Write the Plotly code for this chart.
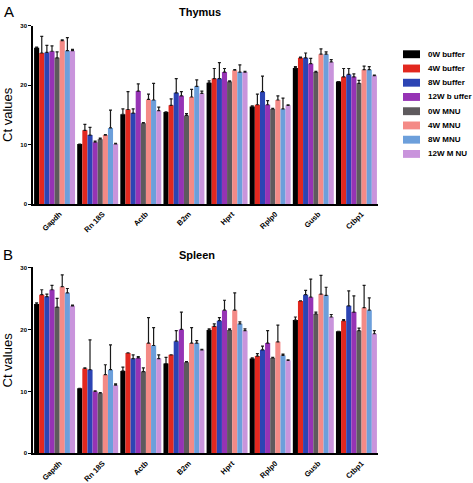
import plotly.graph_objects as go
from plotly.subplots import make_subplots

genes = ["Gapdh", "Rn 18S", "Actb", "B2m", "Hprt", "Rplp0", "Gusb", "Ctbp1"]
series = ["0W buffer", "4W buffer", "8W buffer", "12W b uffer", "0W MNU", "4W MNU", "8W MNU", "12W M NU"]
colors = ["#000000", "#e2281f", "#2c44b4", "#9633b5", "#5e5a5d", "#f48a86", "#6c9fdb", "#c994dc"]

# Thymus means and (upper) error values
thymus_0w_buf = [26.3, 10.1, 15.1, 15.5, 20.4, 16.4, 22.9, 20.6]
thymus_4w_buf = [25.4, 12.4, 15.9, 16.6, 21.1, 16.7, 24.6, 21.4]
thymus_8w_buf = [25.5, 11.6, 15.3, 18.7, 21.1, 18.9, 24.6, 21.8]
thymus_12w_buf = [25.7, 10.4, 19.0, 18.2, 22.2, 16.7, 23.6, 21.4]
thymus_0w_mnu = [24.6, 10.9, 13.6, 14.9, 20.6, 16.0, 22.2, 20.3]
thymus_4w_mnu = [27.5, 11.6, 17.6, 18.0, 22.5, 17.5, 25.2, 22.6]
thymus_8w_mnu = [25.8, 12.8, 17.5, 19.8, 22.2, 16.0, 25.2, 22.6]
thymus_12w_mnu = [25.8, 10.1, 15.7, 18.6, 22.2, 16.6, 23.9, 21.6]

thymus_err_0w_buf = [0.1, 0.0, 0.9, 0.0, 0.3, 0.1, 0.2, 0.0]
thymus_err_4w_buf = [2.8, 1.0, 3.0, 1.1, 1.7, 1.8, 0.1, 1.4]
thymus_err_8w_buf = [1.2, 1.3, 0.7, 2.4, 2.7, 2.6, 0.8, 1.0]
thymus_err_12w_buf = [0.9, 0.2, 1.2, 0.7, 0.6, 0.7, 0.9, 0.5]
thymus_err_0w_mnu = [1.0, 0.2, 0.1, 0.3, 0.1, 0.1, 0.1, 0.5]
thymus_err_4w_mnu = [0.1, 0.1, 0.9, 1.3, 0.1, 0.7, 0.9, 0.6]
thymus_err_8w_mnu = [2.2, 3.0, 2.8, 1.1, 1.2, 1.8, 0.4, 0.5]
thymus_err_12w_mnu = [0.2, 0.1, 0.6, 0.4, 0.1, 0.1, 0.4, 0.1]

# Spleen means and (upper) error values
spleen_0w_buf = [24.1, 10.5, 13.3, 14.5, 19.9, 15.3, 21.5, 19.7]
spleen_4w_buf = [25.6, 13.7, 16.2, 15.9, 20.5, 15.7, 24.6, 21.4]
spleen_8w_buf = [25.3, 13.5, 15.3, 18.1, 21.4, 16.7, 25.6, 23.8]
spleen_12w_buf = [26.4, 10.0, 15.4, 20.0, 23.1, 17.8, 25.2, 22.8]
spleen_0w_mnu = [23.6, 9.7, 13.2, 14.7, 19.9, 15.4, 22.5, 19.8]
spleen_4w_mnu = [26.9, 12.7, 17.8, 17.8, 23.1, 18.0, 25.7, 23.5]
spleen_8w_mnu = [25.9, 13.5, 17.4, 17.8, 20.9, 15.8, 25.5, 23.1]
spleen_12w_mnu = [23.8, 11.0, 15.3, 16.7, 19.8, 15.0, 22.0, 19.3]

spleen_err_0w_buf = [0.2, 0.0, 0.6, 1.0, 0.2, 0.1, 0.5, 0.0]
spleen_err_4w_buf = [0.8, 0.1, 0.0, 0.0, 0.4, 0.4, 0.0, 0.2]
spleen_err_8w_buf = [0.4, 4.8, 0.6, 1.7, 0.5, 0.6, 0.7, 2.4]
spleen_err_12w_buf = [0.7, 0.1, 0.2, 2.8, 1.6, 2.0, 2.9, 2.6]
spleen_err_0w_mnu = [1.4, 0.1, 0.6, 0.1, 0.2, 0.1, 0.3, 0.4]
spleen_err_4w_mnu = [1.9, 1.6, 4.1, 2.5, 2.8, 2.7, 3.0, 3.6]
spleen_err_8w_mnu = [0.7, 4.0, 2.9, 0.4, 0.3, 0.2, 1.3, 2.0]
spleen_err_12w_mnu = [0.1, 0.2, 0.6, 0.1, 0.3, 0.1, 0.4, 0.5]

thymus_vals = [thymus_0w_buf, thymus_4w_buf, thymus_8w_buf, thymus_12w_buf,
               thymus_0w_mnu, thymus_4w_mnu, thymus_8w_mnu, thymus_12w_mnu]
thymus_errs = [thymus_err_0w_buf, thymus_err_4w_buf, thymus_err_8w_buf, thymus_err_12w_buf,
               thymus_err_0w_mnu, thymus_err_4w_mnu, thymus_err_8w_mnu, thymus_err_12w_mnu]
spleen_vals = [spleen_0w_buf, spleen_4w_buf, spleen_8w_buf, spleen_12w_buf,
               spleen_0w_mnu, spleen_4w_mnu, spleen_8w_mnu, spleen_12w_mnu]
spleen_errs = [spleen_err_0w_buf, spleen_err_4w_buf, spleen_err_8w_buf, spleen_err_12w_buf,
               spleen_err_0w_mnu, spleen_err_4w_mnu, spleen_err_8w_mnu, spleen_err_12w_mnu]

y_ticks = [0, 10, 20, 30]

FONT = "Arial, 'Liberation Sans', Helvetica, sans-serif"
W, H = 473, 483

fig = make_subplots(rows=2, cols=1)

for row, (vals, errs) in enumerate([(thymus_vals, thymus_errs), (spleen_vals, spleen_errs)], start=1):
    for i, name in enumerate(series):
        fig.add_trace(go.Bar(
            x=genes, y=vals[i], name=name,
            marker=dict(color=colors[i], line=dict(width=0)),
            error_y=dict(type="data", symmetric=False, array=errs[i],
                         arrayminus=[0] * len(genes), color="#1a1a1a",
                         thickness=1.2, width=1.5),
            showlegend=False,
        ), row=row, col=1)

xdom = [33 / W, 378 / W]
fig.update_layout(
    width=W, height=H,
    margin=dict(l=0, r=0, t=0, b=0),
    paper_bgcolor="white", plot_bgcolor="white",
    barmode="group", bargap=0.05, bargroupgap=0.0,
    font=dict(family=FONT, color="black"),
    showlegend=False,
    xaxis=dict(domain=xdom, anchor="y"),
    yaxis=dict(domain=[1 - 204 / H, 1 - 23 / H], anchor="x"),
    xaxis2=dict(domain=xdom, anchor="y2"),
    yaxis2=dict(domain=[1 - 457 / H, 1 - 268.3 / H], anchor="x2"),
)

for ax in ["xaxis", "xaxis2"]:
    fig.layout[ax].update(showline=True, linecolor="black", linewidth=1.5,
                          ticks="", tickangle=-45, ticklabelstandoff=1,
                          ticklabelshift=5,
                          tickfont=dict(size=7.5, family=FONT, weight="bold"),
                          showgrid=False, zeroline=False)
for ax in ["yaxis", "yaxis2"]:
    fig.layout[ax].update(range=[0, 30], tickvals=y_ticks, showline=True,
                          linecolor="black", linewidth=1.5, ticks="outside",
                          ticklen=3, tickwidth=1.2, tickcolor="black",
                          tickfont=dict(size=6, family=FONT, weight="bold"),
                          showgrid=False, zeroline=False,
                          title=dict(text="Ct values", font=dict(size=13, family=FONT),
                                     standoff=6))

# Legend drawn as layout swatches + labels
leg_x0, leg_y0, leg_dy = 403, 52, 14.45
for i, name in enumerate(series):
    yc = leg_y0 + i * leg_dy
    fig.add_shape(type="rect", xref="paper", yref="paper",
                  x0=leg_x0 / W, x1=(leg_x0 + 17) / W,
                  y0=1 - (yc + 4) / H, y1=1 - (yc - 4) / H,
                  fillcolor=colors[i], line=dict(width=0))
    fig.add_annotation(xref="paper", yref="paper", showarrow=False,
                       x=(leg_x0 + 23) / W, y=1 - yc / H, xanchor="left", yanchor="middle",
                       text=name, font=dict(size=8, family=FONT, weight="bold"))

annos = [
    dict(text="Thymus", x=200 / W, y=1 - 9 / H, font=dict(size=11, family=FONT, weight="bold")),
    dict(text="A", x=9 / W, y=1 - 9 / H, font=dict(size=15, family=FONT)),
    dict(text="Spleen", x=197 / W, y=1 - 256 / H, font=dict(size=11, family=FONT, weight="bold")),
    dict(text="B", x=8 / W, y=1 - 255 / H, font=dict(size=15, family=FONT)),
]
for a in annos:
    fig.add_annotation(xref="paper", yref="paper", showarrow=False,
                       xanchor="center", yanchor="middle", **a)

fig.write_html("out.html", config={"displayModeBar": False},
               post_script="document.body.style.margin='0';document.body.style.overflow='hidden';")
